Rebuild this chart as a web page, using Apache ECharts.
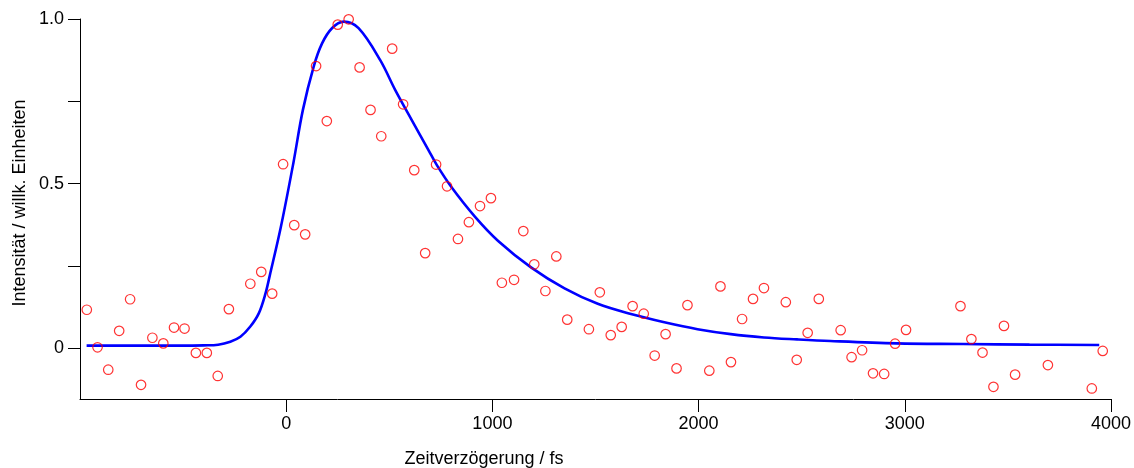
<!DOCTYPE html>
<html>
<head>
<meta charset="utf-8">
<script src="https://cdn.jsdelivr.net/npm/echarts@6/dist/echarts.min.js"></script>
<style>
  html, body { margin: 0; padding: 0; background: #fff; }
  #chart { width: 1134px; height: 468px; }
</style>
</head>
<body>
<div id="chart"></div>
<script>
// Measured pump-probe signal: delay (fs) and normalised intensity
const delayFs = [
  -967, -915, -863, -810, -757, -704, -649, -596, -544, -493,
  -438, -385, -332, -278, -174, -121, -68, -15, 39, 92,
  145, 197, 250, 303, 356, 409, 461, 514, 567, 621,
  674, 727, 780, 833, 886, 940, 993, 1046, 1105, 1150,
  1203, 1257, 1310, 1363, 1468, 1521, 1574, 1627, 1680, 1734,
  1787, 1840, 1893, 1946, 2052, 2106, 2157, 2211, 2264, 2317,
  2423, 2476, 2529, 2583, 2689, 2742, 2793, 2846, 2900, 2953,
  3006, 3270, 3323, 3377, 3430, 3481, 3535, 3694, 3907, 3960
];
const intensity = [
  0.117, 0.003, -0.065, 0.053, 0.149, -0.111, 0.032, 0.015, 0.063, 0.060,
  -0.014, -0.014, -0.084, 0.119, 0.196, 0.232, 0.166, 0.559, 0.374, 0.346,
  0.857, 0.690, 0.983, 0.999, 0.853, 0.724, 0.644, 0.910, 0.741, 0.541,
  0.289, 0.558, 0.492, 0.332, 0.383, 0.432, 0.456, 0.199, 0.208, 0.356,
  0.255, 0.174, 0.279, 0.087, 0.058, 0.170, 0.040, 0.065, 0.128, 0.105,
  -0.022, 0.043, -0.061, 0.131, -0.068, 0.188, -0.042, 0.089, 0.150, 0.183,
  0.140, -0.035, 0.047, 0.150, 0.055, -0.027, -0.006, -0.076, -0.078, 0.014,
  0.056, 0.128, 0.028, -0.013, -0.117, 0.068, -0.080, -0.051, -0.122, -0.008
];

// Fitted response curve, sampled along the delay axis
const fitDelayFs = [
  -968, -700, -500, -400, -330, -271, -222, -174, -133, -101,
  -80, -27, 34, 81, 134, 174, 222, 279, 351, 456,
  529, 609, 690, 730, 802, 915, 1028, 1189, 1350, 1511,
  1672, 1834, 1995, 2156, 2317, 2478, 2639, 2961, 3283, 3605, 3943
];
const fitIntensity = [
  0.008, 0.008, 0.008, 0.009, 0.011, 0.020, 0.035, 0.066, 0.106, 0.165,
  0.220, 0.365, 0.560, 0.724, 0.857, 0.926, 0.972, 0.992, 0.972, 0.875,
  0.784, 0.693, 0.602, 0.557, 0.489, 0.400, 0.326, 0.245, 0.182, 0.135,
  0.104, 0.079, 0.058, 0.043, 0.033, 0.027, 0.022, 0.015, 0.013, 0.011, 0.010
];

// Axis ticks and labels
const xLabelValues = [0, 1000, 2000, 3000, 4000];
const yTickValues = [0, 0.25, 0.5, 0.75, 1.0];
const yLabelValues = [0, 0.5, 1.0];

const xTitle = 'Zeitverzögerung / fs';
const yTitle = 'Intensität / willk. Einheiten';

const FONT = '"Liberation Sans", Arial, Helvetica, sans-serif';

const chart = echarts.init(document.getElementById('chart'), null, { renderer: 'canvas' });

const points = delayFs.map((d, i) => [d, intensity[i]]);
const fit = fitDelayFs.map((d, i) => [d, fitIntensity[i]]);

chart.setOption({
  animation: false,
  backgroundColor: '#ffffff',
  grid: { left: 80, right: 19, top: 19, bottom: 69, containLabel: false },
  xAxis: {
    type: 'value',
    min: -1000,
    max: 4000,
    splitLine: { show: false },
    axisLine: { show: true, onZero: false, lineStyle: { color: '#000', width: 1 } },
    axisTick: { show: true, inside: false, length: 13, customValues: xLabelValues,
                lineStyle: { color: '#000', width: 1 } },
    axisLabel: { show: true, customValues: xLabelValues, margin: 16,
                 color: '#000', fontSize: 18, fontFamily: FONT,
                 formatter: v => String(v) }
  },
  yAxis: {
    type: 'value',
    min: -0.154,
    max: 1.0,
    splitLine: { show: false },
    axisLine: { show: true, onZero: false, lineStyle: { color: '#000', width: 1 } },
    axisTick: { show: true, inside: false, length: 12, customValues: yTickValues,
                lineStyle: { color: '#000', width: 1 } },
    axisLabel: { show: true, customValues: yLabelValues, margin: 16,
                 color: '#000', fontSize: 18, fontFamily: FONT,
                 formatter: v => (v === 0 ? '0' : v.toFixed(1)) }
  },
  graphic: [
    {
      type: 'text',
      x: 484, y: 459,
      style: { text: xTitle, fill: '#000', font: '18px ' + FONT,
               align: 'center', verticalAlign: 'middle' }
    },
    {
      type: 'text',
      x: 20, y: 203,
      rotation: Math.PI / 2,
      style: { text: yTitle, fill: '#000', font: '18px ' + FONT,
               align: 'center', verticalAlign: 'middle' }
    }
  ],
  series: [
    {
      type: 'line',
      data: fit,
      showSymbol: false,
      smooth: 0.35,
      lineStyle: { color: '#0000ff', width: 2.6 },
      z: 2
    },
    {
      type: 'scatter',
      data: points,
      symbol: 'circle',
      symbolSize: 9.5,
      itemStyle: { color: 'rgba(0,0,0,0)', borderColor: '#ff0000', borderWidth: 1.2 },
      z: 3
    }
  ]
});
</script>
</body>
</html>
